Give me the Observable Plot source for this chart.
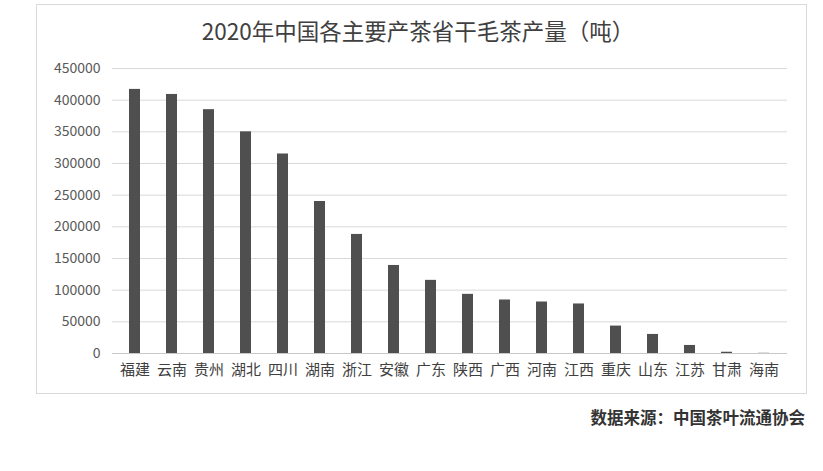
<!DOCTYPE html>
<html>
<head>
<meta charset="utf-8">
<script src="https://cdn.jsdelivr.net/npm/d3@7"></script>
<script src="https://cdn.jsdelivr.net/npm/@observablehq/plot@0.6"></script>
<style>
  html, body { margin: 0; padding: 0; background: #fff; }
  body { width: 823px; height: 471px; position: relative; overflow: hidden; font-family: "Noto Sans CJK SC", "Noto Sans", sans-serif; }
  #frame { position: absolute; left: 36px; top: 4px; width: 771px; height: 390px; border: 1px solid #d9d9d9; box-sizing: border-box; }
  #chart { position: absolute; left: 0; top: 0; width: 823px; }
  #title { height: 45px; padding-top: 5px; line-height: 50px; text-align: center; padding-left: 13px; font-size: 22.5px; color: #404040; white-space: nowrap; }
  #source { position: absolute; right: 18px; top: 406px; line-height: 22px; font-size: 16.5px; font-weight: bold; color: #333; white-space: nowrap; }
  svg { display: block; }
</style>
</head>
<body>
<div id="frame"></div>
<div id="chart">
  <div id="title">2020年中国各主要产茶省干毛茶产量（吨）</div>
  <div id="plot"></div>
</div>
<div id="source">数据来源：中国茶叶流通协会</div>
<script>
const provinces = ["福建","云南","贵州","湖北","四川","湖南","浙江","安徽","广东","陕西","广西","河南","江西","重庆","山东","江苏","甘肃","海南"];
const output = [417000, 409000, 385000, 350000, 315000, 240000, 188000, 139000, 115500, 93400, 84500, 81300, 78200, 43300, 30100, 12700, 2000, 300];
const yTicks = [0, 50000, 100000, 150000, 200000, 250000, 300000, 350000, 400000, 450000];

const data = provinces.map((p, i) => ({province: p, value: output[i]}));

const chart = Plot.plot({
  width: 823,
  height: 343,
  marginTop: 18,
  marginBottom: 40,
  marginLeft: 112,
  marginRight: 36,
  style: {fontFamily: '"Noto Sans CJK SC", "Noto Sans", sans-serif', background: "transparent"},
  x: {domain: provinces, paddingInner: 0.69, paddingOuter: 0.345, label: null},
  y: {domain: [0, 450000], label: null},
  marks: [
    Plot.gridY({ticks: yTicks, stroke: "#d9d9d9", strokeOpacity: 1, strokeWidth: 1}),
    Plot.barY(data, {x: "province", y: "value", fill: "#4f4f4f"}),
    Plot.ruleY([0], {stroke: "#c8c8c8", strokeWidth: 1}),
    Plot.axisY({ticks: yTicks, tickSize: 0, tickPadding: 12, tickFormat: d => String(d), fontSize: 14, fill: "#595959", label: null}),
    Plot.axisX({tickSize: 0, tickPadding: 11, fontSize: 15, fill: "#404040", label: null})
  ]
});
document.getElementById("plot").appendChild(chart);
</script>
</body>
</html>
